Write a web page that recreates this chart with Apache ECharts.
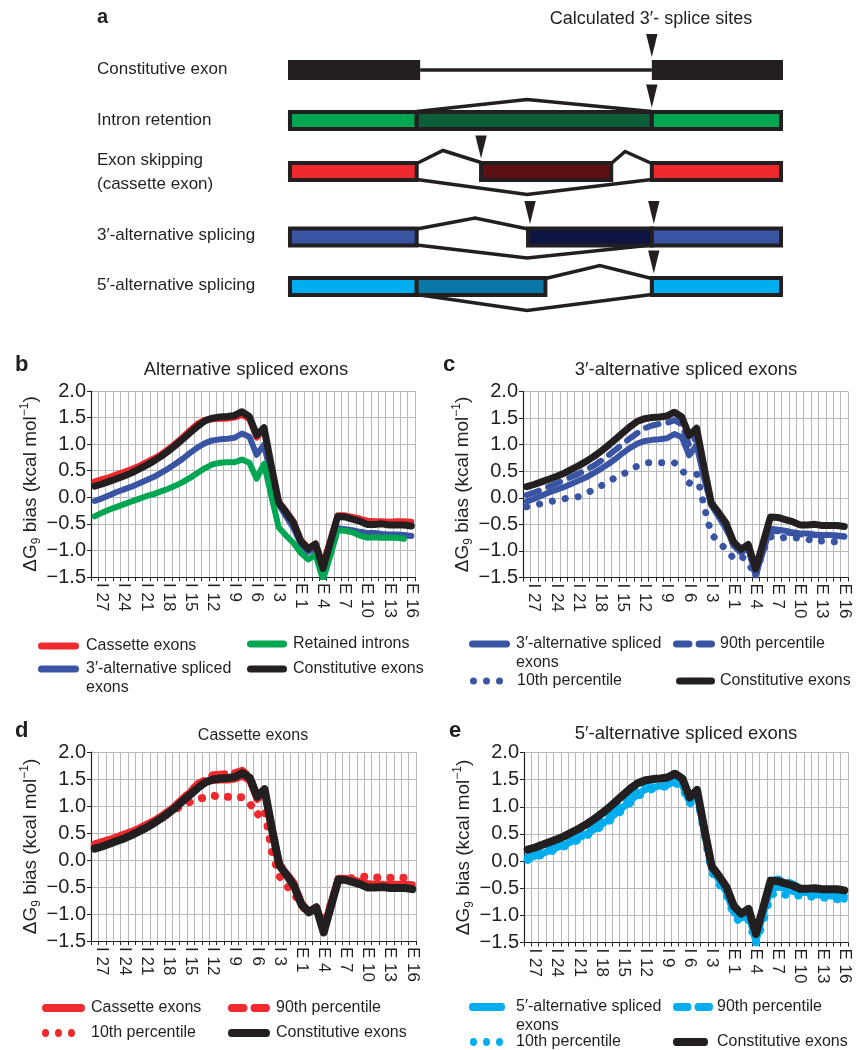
<!DOCTYPE html>
<html>
<head>
<meta charset="utf-8">
<title>Splice site folding energy bias</title>
<script src="https://cdn.jsdelivr.net/npm/echarts@6/dist/echarts.min.js"></script>
<style>
  html, body { margin: 0; padding: 0; background: #fff; }
  #chart { width: 857px; height: 1050px; }
</style>
</head>
<body>
<div id="chart"></div>
<script>
// positions relative to the 3' splice site: intron I 28..I 1, exon E 1..E 16
const positions = ['I 28', 'I 27', 'I 26', 'I 25', 'I 24', 'I 23', 'I 22', 'I 21', 'I 20', 'I 19',
    'I 18', 'I 17', 'I 16', 'I 15', 'I 14', 'I 13', 'I 12', 'I 11', 'I 10', 'I 9',
    'I 8', 'I 7', 'I 6', 'I 5', 'I 4', 'I 3', 'I 2', 'I 1',
    'E 1', 'E 2', 'E 3', 'E 4', 'E 5', 'E 6', 'E 7', 'E 8', 'E 9', 'E 10',
    'E 11', 'E 12', 'E 13', 'E 14', 'E 15', 'E 16'];

const constitutive = [0.21, 0.25, 0.30, 0.35, 0.40, 0.46, 0.53, 0.60, 0.68, 0.77, 0.87, 0.98, 1.10, 1.22, 1.34, 1.44, 1.49, 1.51, 1.52, 1.54,
    1.61, 1.52, 1.17, 1.31, 0.58, -0.10, -0.28, -0.48, -0.83, -0.97, -0.88, -1.34, -0.85, -0.36, -0.37, -0.41, -0.45, -0.51, -0.51, -0.50,
    -0.52, -0.52, -0.52, -0.54];
const cassette = [0.30, 0.34, 0.38, 0.43, 0.48, 0.53, 0.59, 0.66, 0.73, 0.81, 0.91, 1.02, 1.14, 1.27, 1.39, 1.46, 1.47, 1.48, 1.48, 1.50,
    1.55, 1.47, 1.12, 1.27, 0.56, -0.08, -0.26, -0.45, -0.80, -0.95, -0.87, -1.25, -0.80, -0.34, -0.34, -0.37, -0.40, -0.44, -0.45, -0.45,
    -0.46, -0.45, -0.45, -0.46];
const alt3 = [-0.07, -0.02, 0.04, 0.10, 0.15, 0.20, 0.26, 0.32, 0.38, 0.46, 0.54, 0.63, 0.73, 0.84, 0.94, 1.02, 1.07, 1.09, 1.10, 1.12,
    1.20, 1.14, 0.80, 0.99, 0.38, -0.14, -0.36, -0.58, -0.88, -1.03, -0.95, -1.46, -1.00, -0.58, -0.60, -0.62, -0.65, -0.67, -0.67, -0.69,
    -0.70, -0.70, -0.71, -0.73];
const retained = [-0.36, -0.29, -0.23, -0.18, -0.13, -0.08, -0.03, 0.02, 0.06, 0.11, 0.16, 0.22, 0.29, 0.37, 0.46, 0.55, 0.62, 0.65, 0.66, 0.66,
    0.71, 0.65, 0.35, 0.63, 0.02, -0.57, -0.72, -0.86, -1.05, -1.17, -1.08, -1.55, -1.10, -0.62, -0.63, -0.66, -0.72, -0.76, -0.75, -0.76,
    -0.76, -0.76, -0.78, null];
const alt3P90 = [0.05, 0.10, 0.15, 0.21, 0.27, 0.33, 0.39, 0.45, 0.52, 0.60, 0.69, 0.79, 0.90, 1.01, 1.12, 1.22, 1.31, 1.36, 1.39, 1.41,
    1.46, 1.38, 0.98, 1.15, 0.45, -0.12, -0.35, -0.58, -0.90, -1.03, -0.95, -1.45, -1.00, -0.62, -0.63, -0.65, -0.67, -0.69, -0.69, -0.70,
    -0.71, -0.71, -0.72, -0.73];
const alt3P10 = [-0.17, -0.14, -0.11, -0.08, -0.05, -0.02, 0.00, 0.02, 0.08, 0.15, 0.22, 0.30, 0.38, 0.44, 0.52, 0.60, 0.65, 0.67, 0.66, 0.65,
    0.66, 0.55, 0.27, 0.46, -0.15, -0.68, -0.84, -0.97, -1.14, -1.09, -1.22, -1.47, -1.00, -0.73, -0.78, -0.74, -0.74, -0.77, -0.77, -0.84,
    -0.81, -0.84, -0.82, -0.86];
const cassP90 = [0.29, 0.33, 0.37, 0.42, 0.47, 0.52, 0.58, 0.65, 0.72, 0.81, 0.91, 1.02, 1.15, 1.29, 1.42, 1.49, 1.58, 1.59, 1.60, 1.62,
    1.66, 1.55, 1.18, 1.30, 0.58, -0.06, -0.25, -0.43, -0.80, -0.95, -0.87, -1.25, -0.80, -0.35, -0.36, -0.40, -0.44, -0.46, -0.46, -0.46,
    -0.47, -0.46, -0.46, -0.47];
const cassP10 = [0.27, 0.31, 0.35, 0.39, 0.44, 0.49, 0.55, 0.62, 0.69, 0.77, 0.86, 0.94, 1.02, 1.08, 1.13, 1.16, 1.19, 1.18, 1.17, 1.16,
    1.16, 1.05, 0.83, 0.95, 0.15, -0.30, -0.48, -0.62, -0.85, -0.97, -0.92, -1.20, -0.80, -0.37, -0.36, -0.33, -0.31, -0.31, -0.32, -0.33,
    -0.33, -0.33, -0.33, -0.34];
const alt5 = [0.04, 0.09, 0.14, 0.19, 0.25, 0.30, 0.36, 0.43, 0.50, 0.58, 0.67, 0.77, 0.88, 1.00, 1.12, 1.24, 1.32, 1.36, 1.38, 1.40,
    1.48, 1.40, 1.08, 1.26, 0.55, -0.15, -0.35, -0.58, -0.95, -1.05, -0.98, -1.48, -0.95, -0.52, -0.48, -0.50, -0.56, -0.58, -0.58, -0.62,
    -0.63, -0.64, -0.66, -0.70];
const alt5P90 = [0.08, 0.13, 0.18, 0.23, 0.29, 0.35, 0.41, 0.48, 0.56, 0.64, 0.73, 0.84, 0.96, 1.09, 1.22, 1.36, 1.45, 1.50, 1.52, 1.53,
    1.58, 1.48, 1.12, 1.28, 0.55, -0.12, -0.30, -0.52, -0.85, -1.00, -0.92, -1.40, -0.85, -0.36, -0.33, -0.36, -0.42, -0.50, -0.52, -0.55,
    -0.58, -0.58, -0.60, -0.65];
const alt5P10 = [0.02, 0.07, 0.12, 0.17, 0.22, 0.27, 0.33, 0.40, 0.47, 0.55, 0.64, 0.73, 0.84, 0.96, 1.08, 1.20, 1.28, 1.33, 1.36, 1.38,
    1.44, 1.36, 1.05, 1.22, 0.50, -0.20, -0.42, -0.62, -1.00, -1.15, -1.08, -1.52, -1.10, -0.62, -0.58, -0.62, -0.65, -0.63, -0.65, -0.66,
    -0.67, -0.68, -0.70, -0.74];

// schematic (panel a): x in percent of the gene drawing, y in rows
const schemLabels = ['Constitutive exon', 'Intron retention', 'Exon skipping\n(cassette exon)', '3′-alternative splicing', '5′-alternative splicing'];
const schemRowY = [70, 120.5, 171.5, 237, 286.5];

const ink = '#231f20';
const red = '#ee2a2f', green = '#00a651', blue = '#3a54a4', cyan = '#00aeef';
const font = 'Liberation Sans, Arial, Helvetica, sans-serif';
const gridGrey = '#b8b8b8';

const schemBoxes = [
    [[0, 26.7, ink], [73.5, 100, ink]],
    [[0.4, 26, green], [26, 73.5, '#0b5e37'], [73.5, 99.6, green]],
    [[0.4, 26, red], [39, 65.3, '#5c1014'], [73.5, 99.6, red]],
    [[0.4, 26, blue], [48.5, 73.5, '#0e1441'], [73.5, 99.6, blue]],
    [[0.4, 26, cyan], [26, 52, '#0a78a6'], [73.5, 99.6, cyan]]
];
const schemJunctions = [
    [[[26.7, 0], [73.5, 0]]],
    [[[26, -9], [48.3, -21], [73.5, -9]]],
    [[[26, -8], [31.3, -21], [39, -9]], [[65.3, -8], [68.1, -20], [73.5, -8]], [[26, 8], [48.3, 23], [73.5, 8]]],
    [[[26, -8], [37.8, -19], [48.5, -8]], [[26, 8], [48.3, 21], [73.5, 8]]],
    [[[52, -8], [63, -21], [73.5, -8]], [[26, 8], [48.3, 24], [73.5, 8]]]
];
const schemArrows = [[73.5], [73.5], [39], [48.9, 73.9], [73.9]];

function drawRow(params, api) {
    const r = api.value(0);
    const yc = schemRowY[r];
    const at = (x, dy) => api.coord([x, yc + dy]);
    const kids = [];
    schemJunctions[r].forEach(path => {
        kids.push({
            type: 'polyline',
            shape: { points: path.map(p => at(p[0], p[1])) },
            style: { stroke: ink, lineWidth: 3.5, fill: null }
        });
    });
    schemBoxes[r].forEach(b => {
        const h = r === 0 ? 10 : 8.5;
        const p0 = at(b[0], -h), p1 = at(b[1], h);
        kids.push({
            type: 'rect',
            shape: { x: p0[0], y: p0[1], width: p1[0] - p0[0], height: p1[1] - p0[1] },
            style: { fill: b[2], stroke: ink, lineWidth: r === 0 ? 0 : 4 }
        });
    });
    schemArrows[r].forEach(x => {
        kids.push({
            type: 'polygon',
            shape: { points: [at(x, -13), at(x - 1.15, -36), at(x + 1.15, -36)] },
            style: { fill: ink }
        });
    });
    return { type: 'group', children: kids };
}

const yName = '{n|ΔG}{s|9}{n| bias (kcal mol}{p|−1}{n|)}';

function catAxis(gi) {
    return {
        type: 'category', gridIndex: gi, data: positions, boundaryGap: true,
        axisLine: { show: true, onZero: false, lineStyle: { color: ink, width: 1.2 } },
        axisTick: { show: true, interval: 0, length: 4, lineStyle: { color: ink } },
        axisLabel: {
            interval: (i) => i % 3 === 1, rotate: -90, margin: 6,
            fontSize: 17, color: ink, fontFamily: font
        },
        splitLine: { show: true, interval: 0, lineStyle: { color: gridGrey, width: 1 } }
    };
}

function valAxis(gi) {
    return {
        type: 'value', gridIndex: gi, min: -1.5, max: 2, interval: 0.5,
        name: yName, nameLocation: 'middle', nameGap: 48, nameRotate: 90,
        nameTextStyle: {
            color: ink, fontFamily: font,
            rich: {
                n: { fontSize: 19, lineHeight: 24, color: ink, fontFamily: font },
                s: { fontSize: 12, verticalAlign: 'bottom', color: ink, fontFamily: font },
                p: { fontSize: 12, verticalAlign: 'top', color: ink, fontFamily: font }
            }
        },
        axisLine: { show: true, onZero: false, lineStyle: { color: ink, width: 1.2 } },
        axisTick: { show: true, length: 4, lineStyle: { color: ink } },
        axisLabel: {
            formatter: v => (v < 0 ? '−' : '') + Math.abs(v).toFixed(1),
            fontSize: 20, color: ink, fontFamily: font, margin: 5
        },
        splitLine: { show: true, lineStyle: { color: gridGrey, width: 1 } }
    };
}

const dashTypes = { solid: 'solid', dash: [13, 10], dot: [0.1, 13] };

function line(gi, name, data, color, kind, width) {
    return {
        type: 'line', name, xAxisIndex: gi, yAxisIndex: gi, data,
        symbol: 'none', silent: true, connectNulls: false,
        itemStyle: { color },
        lineStyle: { color, width, type: dashTypes[kind], cap: 'round', join: 'round' }
    };
}

const iconPaths = {
    solid: 'path://M3.5,0L36.5,0A3.5,3.5,0,0,1,36.5,7L3.5,7A3.5,3.5,0,0,1,3.5,0Z',
    dash: 'path://M3.5,0L15,0A3.5,3.5,0,0,1,15,7L3.5,7A3.5,3.5,0,0,1,3.5,0ZM25,0L36.5,0A3.5,3.5,0,0,1,36.5,7L25,7A3.5,3.5,0,0,1,25,0Z',
    dot: 'path://M0,3.5A3.5,3.5,0,1,1,7,3.5A3.5,3.5,0,1,1,0,3.5ZM13,3.5A3.5,3.5,0,1,1,20,3.5A3.5,3.5,0,1,1,13,3.5ZM26,3.5A3.5,3.5,0,1,1,33,3.5A3.5,3.5,0,1,1,26,3.5Z'
};

// one legend per entry so the two-column layout of the figure is kept
function legendItem(name, label, shape, left, w, h, textLeft, yc) {
    const lh = 19;
    return {
        data: [name], icon: iconPaths[shape], left, top: yc - lh / 2,
        orient: 'horizontal', padding: 0, itemGap: 0, selectedMode: false,
        itemWidth: w, itemHeight: h, symbolKeepAspect: false,
        itemStyle: { borderWidth: 0 },
        formatter: () => label,
        textStyle: {
            fontSize: 16, lineHeight: lh, color: ink, fontFamily: font,
            padding: [0, 0, 0, textLeft - (left + w + 5)]
        }
    };
}

function txt(text, x, y, size, opts) {
    return {
        type: 'text', x, y, silent: true,
        style: Object.assign({
            text, fontSize: size, fontFamily: font, fill: ink,
            align: 'left', verticalAlign: 'middle'
        }, opts || {})
    };
}

const chart = echarts.init(document.getElementById('chart'), null, { renderer: 'canvas' });

chart.setOption({
    backgroundColor: '#fff',
    animation: false,
    grid: [
        { left: 288, top: 0, width: 495, height: 320 },
        { left: 91, top: 391, width: 324, height: 186 },
        { left: 523, top: 391.5, width: 325, height: 186 },
        { left: 91, top: 752, width: 325, height: 189 },
        { left: 524, top: 752.5, width: 324, height: 190 }
    ],
    xAxis: [
        { type: 'value', gridIndex: 0, min: 0, max: 100, show: false },
        catAxis(1), catAxis(2), catAxis(3), catAxis(4)
    ],
    yAxis: [
        { type: 'value', gridIndex: 0, min: 0, max: 320, inverse: true, show: false },
        valAxis(1), valAxis(2), valAxis(3), valAxis(4)
    ],
    legend: [
        legendItem('b_cass', 'Cassette exons', 'solid', 38, 41, 7, 86, 646),
        legendItem('b_ret', 'Retained introns', 'solid', 247, 40, 7, 293, 644),
        legendItem('b_alt3', '3′-alternative spliced', 'solid', 38, 41, 7, 86, 669),
        legendItem('b_const', 'Constitutive exons', 'solid', 247, 40, 7, 293, 669),

        legendItem('c_alt3', '3′-alternative spliced', 'solid', 469, 41, 7, 516, 644),
        legendItem('c_p90', '90th percentile', 'dash', 673, 42, 7, 720, 644),
        legendItem('c_p10', '10th percentile', 'dot', 470, 33, 7, 517, 681),
        legendItem('c_const', 'Constitutive exons', 'solid', 676, 39, 7, 720, 681),

        legendItem('d_cass', 'Cassette exons', 'solid', 42, 43, 8, 91, 1008),
        legendItem('d_p90', '90th percentile', 'dash', 228, 42, 8, 276, 1008),
        legendItem('d_p10', '10th percentile', 'dot', 42, 33, 8, 91, 1033),
        legendItem('d_const', 'Constitutive exons', 'solid', 228, 42, 8, 276, 1033),

        legendItem('e_alt5', '5′-alternative spliced', 'solid', 469, 36, 8, 516, 1007),
        legendItem('e_p90', '90th percentile', 'dash', 673, 40, 8, 717, 1007),
        legendItem('e_p10', '10th percentile', 'dot', 470, 33, 8, 516, 1042),
        legendItem('e_const', 'Constitutive exons', 'solid', 673, 35, 8, 717, 1042)
    ],
    graphic: [
        txt('a', 97, 17, 20, { fontWeight: 'bold' }),
        txt('Calculated 3′- splice sites', 651, 19, 18, { align: 'center' }),
        txt(schemLabels[0], 97, 69, 17),
        txt(schemLabels[1], 97, 120, 17),
        txt(schemLabels[2], 97, 172, 17, { lineHeight: 24 }),
        txt(schemLabels[3], 97, 235, 17),
        txt(schemLabels[4], 97, 285, 17),

        txt('b', 15, 365, 22, { fontWeight: 'bold' }),
        txt('Alternative spliced exons', 246, 370, 18.5, { align: 'center' }),
        txt('c', 443, 365, 22, { fontWeight: 'bold' }),
        txt('3′-alternative spliced exons', 686, 369.5, 18.5, { align: 'center' }),
        txt('d', 15, 731, 22, { fontWeight: 'bold' }),
        txt('Cassette exons', 253, 736, 16, { align: 'center' }),
        txt('e', 449, 731, 22, { fontWeight: 'bold' }),
        txt('5′-alternative spliced exons', 686, 734, 18.5, { align: 'center' }),

        // wrapped second line of the long legend entries
        txt('exons', 86, 688, 16),
        txt('exons', 516, 663, 16),
        txt('exons', 516, 1026, 16)
    ],
    series: [
        { type: 'custom', xAxisIndex: 0, yAxisIndex: 0, data: [[0], [1], [2], [3], [4]], renderItem: drawRow, silent: true },

        line(1, 'b_cass', cassette, red, 'solid', 6),
        line(1, 'b_alt3', alt3, blue, 'solid', 6),
        line(1, 'b_ret', retained, green, 'solid', 6),
        line(1, 'b_const', constitutive, ink, 'solid', 7),

        line(2, 'c_alt3', alt3, blue, 'solid', 6),
        line(2, 'c_p90', alt3P90, blue, 'dash', 6),
        line(2, 'c_p10', alt3P10, blue, 'dot', 7),
        line(2, 'c_const', constitutive, ink, 'solid', 7),

        line(3, 'd_cass', cassette, red, 'solid', 7),
        line(3, 'd_p90', cassP90, red, 'dash', 7),
        line(3, 'd_p10', cassP10, red, 'dot', 8),
        line(3, 'd_const', constitutive, ink, 'solid', 8),

        line(4, 'e_alt5', alt5, cyan, 'solid', 7),
        line(4, 'e_p90', alt5P90, cyan, 'dash', 7),
        line(4, 'e_p10', alt5P10, cyan, 'dot', 8),
        line(4, 'e_const', constitutive, ink, 'solid', 8)
    ]
});

window.addEventListener('resize', function () { chart.resize(); });
</script>
</body>
</html>
